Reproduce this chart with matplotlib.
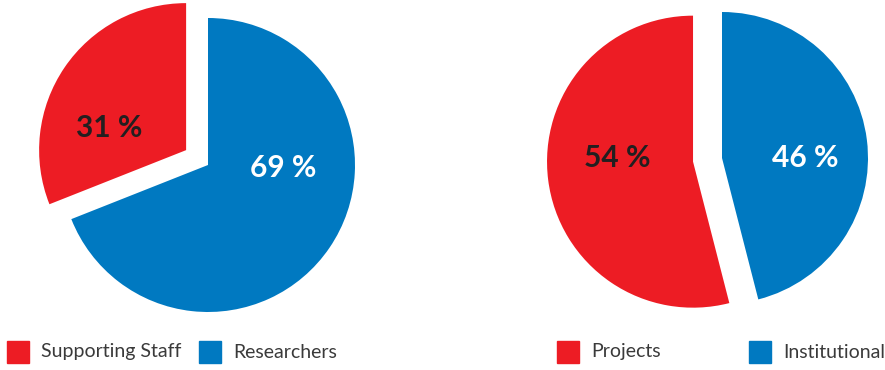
import matplotlib.pyplot as plt
from matplotlib.patches import Rectangle

W, H = 885, 370

RED = "#ed1c24"
BLUE = "#0079c1"

staff_labels = ["Researchers", "Supporting Staff"]
staff_values = [69, 31]

funding_labels = ["Institutional", "Projects"]
funding_values = [46, 54]

plt.rcParams['font.family'] = ['Lato', 'DejaVu Sans']


def px_axes(fig, cx, cy, r):
    """axes whose (-1, 1) box is a circle of radius r px centred at (cx, cy), y from top"""
    ax = fig.add_axes([(cx - r) / W, (H - cy - r) / H, 2 * r / W, 2 * r / H])
    return ax


def draw_pie(ax, values, explode, text_pos, text_colors):
    wedges, _ = ax.pie(values, colors=[BLUE, RED], startangle=90, counterclock=False,
                       explode=explode, radius=1, wedgeprops=dict(linewidth=0))
    ax.set_xlim(-1, 1)
    ax.set_ylim(-1, 1)
    ax.set_aspect('auto')
    ax.axis('off')
    for w in wedges:
        w.set_clip_on(False)
    for v, (x, y), c in zip(values, text_pos, text_colors):
        ax.text(x, y, f"{v} %", ha='center', va='center', fontsize=21.5,
                fontweight='bold', color=c)
    return wedges


def legend_item(fig, x, y, color, label):
    # square marker plus label; x, y in px from top-left
    fig.patches.append(Rectangle((x / W, (H - y - 22) / H), 22 / W, 22 / H,
                                 transform=fig.transFigure, color=color))
    fig.text((x + 34) / W, (H - y - 11) / H, label, ha='left', va='center',
             fontsize=14, color='#3a3a3a')


fig = plt.figure(figsize=(W / 100, H / 100), dpi=100)

ax1 = px_axes(fig, 208, 165, 147)
draw_pie(ax1, staff_values, [0, 0.18],
         [(0.51, -0.02), (-0.67, 0.255)], ['white', '#231f20'])

ax2 = px_axes(fig, 722, 158, 146)
draw_pie(ax2, funding_values, [0, 0.2],
         [(0.57, 0.0), (-0.72, 0.0)], ['white', '#231f20'])

legend_item(fig, 7, 341, RED, staff_labels[1])
legend_item(fig, 199, 341, BLUE, staff_labels[0])
legend_item(fig, 557, 341, RED, funding_labels[1])
legend_item(fig, 749, 341, BLUE, funding_labels[0])

fig.savefig("out.png", dpi=100)
